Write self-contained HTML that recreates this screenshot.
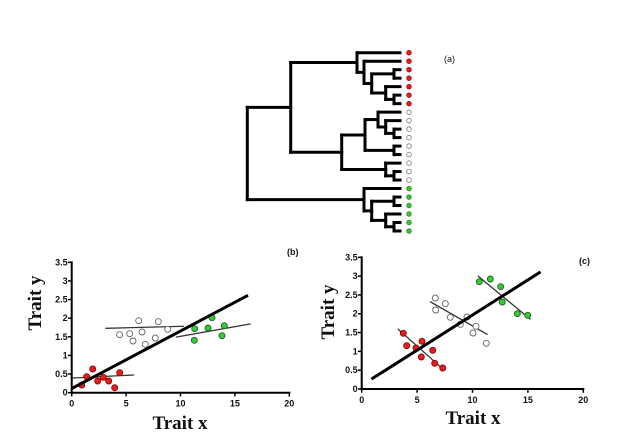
<!DOCTYPE html>
<html><head><meta charset="utf-8"><style>
html,body{margin:0;padding:0;background:#fff;width:632px;height:442px;overflow:hidden}
svg{display:block}
.t{font-family:"Liberation Sans",Arial,sans-serif;font-size:9px;font-weight:bold;fill:#111}
.ax{font-family:"Liberation Serif","Times New Roman",serif;font-size:19px;font-weight:bold;fill:#111}
</style></head><body>
<svg id="s" width="632" height="442" viewBox="0 0 632 442" xmlns="http://www.w3.org/2000/svg">
<text x="444" y="62" class="t" style="font-weight:normal;font-size:9px">(a)</text>
<text x="287" y="255" class="t">(b)</text>
<text x="579" y="264" class="t">(c)</text>
<text x="180" y="429" class="ax" text-anchor="middle">Trait x</text>
<text transform="translate(41,303) rotate(-90)" class="ax" text-anchor="middle">Trait y</text>
<text x="473" y="424" class="ax" text-anchor="middle">Trait x</text>
<text transform="translate(334,312) rotate(-90)" class="ax" text-anchor="middle">Trait y</text>
</svg>
<script>
var s=document.getElementById('s'),NS='http://www.w3.org/2000/svg';
function el(n,a,t){var e=document.createElementNS(NS,n);for(var k in a)e.setAttribute(k,a[k]);if(t!=null)e.textContent=t;s.appendChild(e);return e;}
function ln(x1,y1,x2,y2,w,c){el('line',{x1:x1,y1:y1,x2:x2,y2:y2,'stroke-width':w,stroke:c||'#000','stroke-linecap':'square'});}
// tree
var TY=function(i){return 52.7+8.49*i;};
var TX=400;
function node(x,ch){return {x:x,ch:ch};}
function tip(i){return {tip:i};}
function draw(n){
 if(n.tip!=null){return {x:TX,y:TY(n.tip)};}
 var ps=n.ch.map(draw);
 var ys=ps.map(p=>p.y);
 ln(n.x,Math.min.apply(null,ys),n.x,Math.max.apply(null,ys),3);
 ps.forEach(p=>ln(n.x,p.y,p.x,p.y,3));
 return {x:n.x,y:(Math.min.apply(null,ys)+Math.max.apply(null,ys))/2};
}
var R=node(357,[tip(0),node(364,[tip(1),node(371.7,[node(394,[tip(2),tip(3)]),node(385.7,[tip(4),node(394,[tip(5),tip(6)])])])])]);
var W=node(341.7,[node(365,[node(378,[tip(7),node(385.7,[tip(8),node(394,[tip(9),tip(10)])])]),node(394,[tip(11),tip(12)])]),node(385.7,[tip(13),node(394,[tip(14),tip(15)])])]);
var G=node(364,[tip(16),node(371.7,[node(394,[tip(17),tip(18)]),node(385.7,[tip(19),node(394,[tip(20),tip(21)])])])]);
draw(node(247.3,[node(290.7,[R,W]),G]));
for(var i=0;i<22;i++){var c=i<7?'#e02020':(i<16?'#fff':'#33cc33');el('circle',{cx:409,cy:TY(i),r:2.3,fill:c,stroke:i<7?'#a00':(i<16?'#777':'#282'),'stroke-width':0.8});}
// axes
function axes(x0,y0,x20,y35){
 ln(x0,y0,x20,y0,2);ln(x0,y0,x0,y35,2);
 for(var k=0;k<=4;k++){var x=x0+(x20-x0)*k/4;ln(x,y0,x,y0+3,1.5);el('text',{x:x,y:y0+14,'class':'t','text-anchor':'middle'},String(k*5));}
 for(var k=0;k<=7;k++){var y=y0+(y35-y0)*k/7;ln(x0-3,y,x0,y,1.5);el('text',{x:x0-4,y:y+3,'class':'t','text-anchor':'end'},String(k*0.5));}
}
axes(71.7,392.7,289.3,262.3);
axes(361.7,389,583.3,257.3);
function pts(a,f,st){a.forEach(p=>el('circle',{cx:p[0],cy:p[1],r:3,fill:f,stroke:st,'stroke-width':0.9}));}
var RC='#e02020',RS='#900',WC='#fff',WS='#666',GC='#3c3',GS='#262';
// b
ln(73.3,378,133.3,375,1.3,'#333');ln(106,328.3,183.3,326.3,1.3,'#333');ln(176.7,337,250,324,1.3,'#333');
pts([[81.7,385],[86.7,376.7],[92.7,369],[97.7,381],[103.3,377.3],[108.7,381],[114.7,387.7],[119.7,372.7]],RC,RS);
pts([[119.7,334.7],[129.7,333.7],[138.7,320.7],[133,341],[142,332],[145.3,344.3],[155.3,338],[158.3,321.7],[167.7,329.3]],WC,WS);
pts([[194.7,328.7],[194.3,340.3],[208,328],[212,317.7],[222,335.7],[224.3,325.7]],GC,GS);
ln(73.3,387.7,246.7,296,3);
// c
ln(398.3,329.3,444,370,1.3,'#333');ln(430.7,302,487,334.3,1.3,'#333');ln(478.3,276.3,530,319,1.3,'#333');
pts([[403.3,333.3],[406.7,345.7],[416,348],[422,341.3],[421.3,357],[432.7,350.3],[434.7,363.3],[442.7,368]],RC,RS);
pts([[435.3,298],[435.7,310],[445.3,303.7],[450.3,317.3],[460.3,324.3],[467,317],[476,326.3],[473,333],[486.3,343.3]],WC,WS);
pts([[479.3,281.7],[490.3,279],[500.7,286.7],[502.3,302],[517.3,313.7],[527.7,315.3]],GC,GS);
ln(372.7,378.3,539.3,272.7,3);
</script>
</body></html>
